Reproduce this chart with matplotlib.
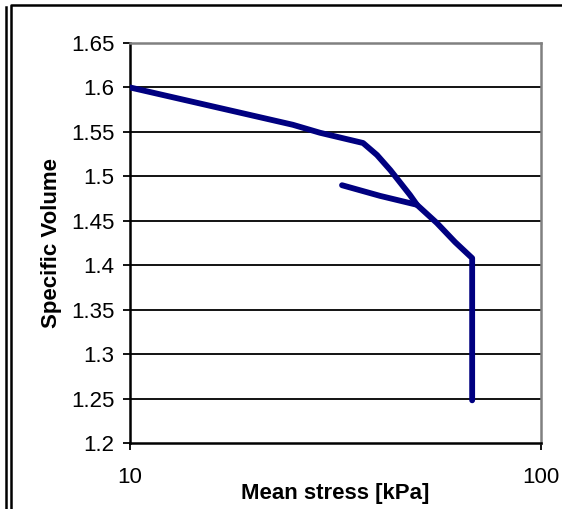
import matplotlib.pyplot as plt
from matplotlib.lines import Line2D

plt.rcParams['font.family'] = ['Liberation Sans', 'DejaVu Sans']

# loading path (mean stress kPa, specific volume)
load_p = [10, 24.9, 29.0, 36.9, 39.9, 43.0, 48.0, 49.9, 55.8, 61.8, 68.0, 68.0]
load_v = [1.600, 1.558, 1.549, 1.5375, 1.524, 1.507, 1.479, 1.468, 1.4475, 1.426, 1.408, 1.248]

# unload / reload branch
branch_p = [32.8, 40.6, 49.9]
branch_v = [1.490, 1.478, 1.468]

yticks = [1.2, 1.25, 1.3, 1.35, 1.4, 1.45, 1.5, 1.55, 1.6, 1.65]
ytick_labels = ['1.2', '1.25', '1.3', '1.35', '1.4', '1.45', '1.5', '1.55', '1.6', '1.65']

fig = plt.figure(figsize=(5.62, 5.09), dpi=100)
ax = fig.add_axes([130/562, 1 - 443/509, 411/562, 400/509])

for y in yticks[1:-1]:
    ax.axhline(y, color='black', lw=1.3, zorder=1)

ax.plot(load_p, load_v, color='#000080', lw=4.2, solid_capstyle='round',
        solid_joinstyle='round', zorder=3)
ax.plot(branch_p, branch_v, color='#000080', lw=4.2, solid_capstyle='round',
        solid_joinstyle='round', zorder=3)

ax.set_xscale('log')
ax.set_xlim(10, 100)
ax.set_ylim(1.2, 1.65)
ax.set_xticks([10, 100])
ax.set_xticklabels(['10', '100'])
ax.minorticks_off()
ax.set_yticks(yticks)
ax.set_yticklabels(ytick_labels)
ax.tick_params(axis='both', direction='out', length=5, width=1.3, labelsize=16,
               colors='black')
ax.tick_params(axis='y', pad=6)
ax.tick_params(axis='x', pad=12)

for side in ['left', 'bottom']:
    ax.spines[side].set_color('black')
    ax.spines[side].set_linewidth(1.8)
for side in ['top', 'right']:
    ax.spines[side].set_color('#808080')
    ax.spines[side].set_linewidth(1.8)

ax.set_xlabel('Mean stress [kPa]', fontsize=16, fontweight='bold', va='center')
ax.xaxis.set_label_coords(0.5, (443 - 493) / 400)
ax.set_ylabel('Specific Volume', fontsize=16, fontweight='bold', va='center')
ax.yaxis.set_label_coords((52 - 130) / 411, 0.5)

# chart frame (cropped Excel border)
fig.add_artist(Line2D([11/562, 11/562, 1.0], [0, 1 - 5/509, 1 - 5/509],
                      transform=fig.transFigure, color='black', lw=1.8))
fig.add_artist(Line2D([6/562, 6/562], [0, 1 - 7/509],
                      transform=fig.transFigure, color='black', lw=1.8))

fig.savefig('out.png', dpi=100)
